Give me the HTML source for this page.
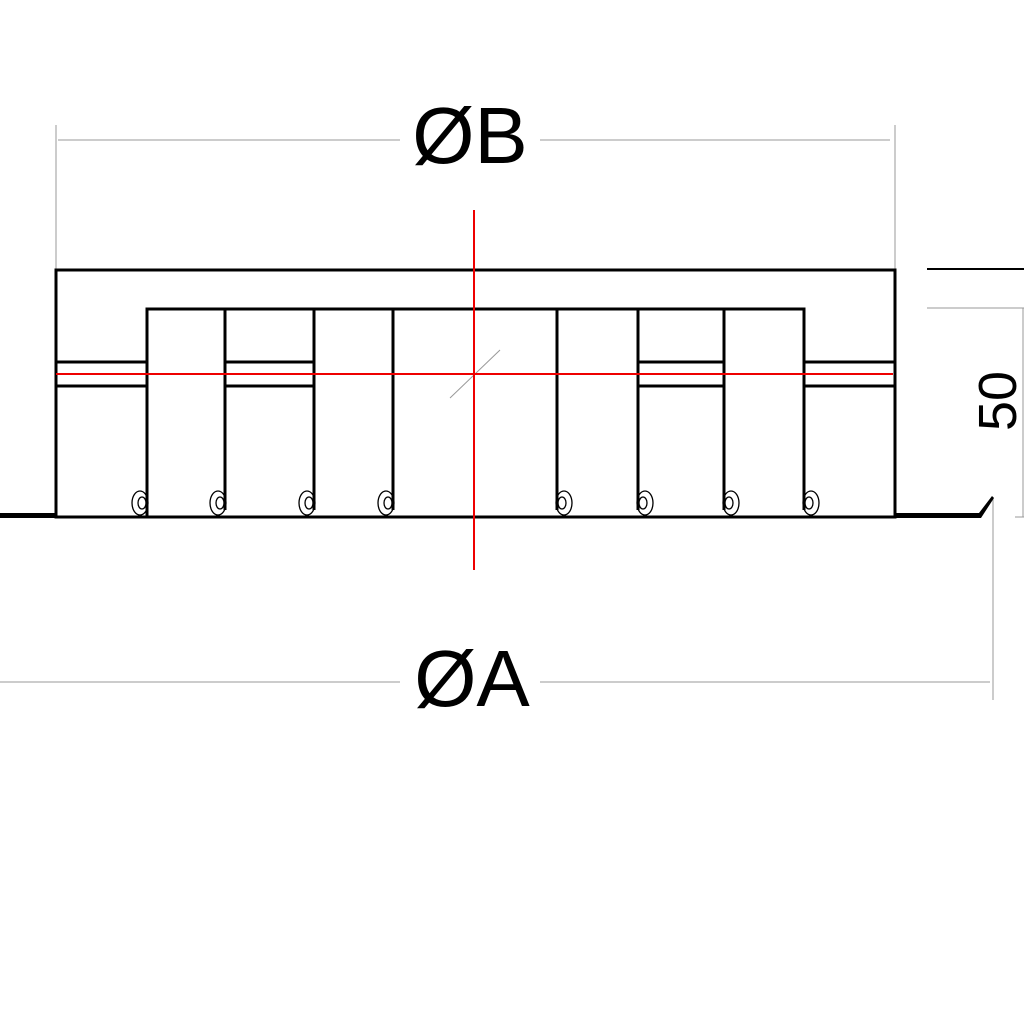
<!DOCTYPE html>
<html><head><style>html,body{margin:0;padding:0;background:#fff;width:1024px;height:1024px;overflow:hidden}text{font-family:"Liberation Sans",sans-serif}</style></head>
<body>
<svg width="1024" height="1024" viewBox="0 0 1024 1024" xmlns="http://www.w3.org/2000/svg">
<rect width="1024" height="1024" fill="#fff"/>
<g stroke="#999" stroke-width="1" fill="none">
<line x1="56" y1="125" x2="56" y2="270"/>
<line x1="895" y1="125" x2="895" y2="270"/>
<line x1="58" y1="140" x2="400" y2="140"/>
<line x1="540" y1="140" x2="890" y2="140"/>
<line x1="0" y1="682" x2="400" y2="682"/>
<line x1="540" y1="682" x2="990" y2="682"/>
<line x1="993" y1="497" x2="993" y2="700"/>
<line x1="927" y1="308" x2="1024" y2="308"/>
<line x1="1023" y1="308" x2="1023" y2="517"/>
<line x1="1015" y1="517" x2="1024" y2="517"/>
<line x1="450" y1="398" x2="500" y2="350"/>
</g>
<line x1="927" y1="269" x2="1024" y2="269" stroke="#000" stroke-width="2"/>
<g stroke="#000" stroke-width="3" fill="none">
<rect x="56" y="270" width="839" height="247"/>
<polyline points="147,517 147,309 804,309 804,510"/>
<line x1="225" y1="309" x2="225" y2="510"/>
<line x1="314" y1="309" x2="314" y2="510"/>
<line x1="393" y1="309" x2="393" y2="510"/>
<line x1="557" y1="309" x2="557" y2="510"/>
<line x1="638" y1="309" x2="638" y2="510"/>
<line x1="724" y1="309" x2="724" y2="510"/>
<line x1="56" y1="362" x2="147" y2="362"/><line x1="56" y1="386" x2="147" y2="386"/>
<line x1="225" y1="362" x2="314" y2="362"/><line x1="225" y1="386" x2="314" y2="386"/>
<line x1="638" y1="362" x2="724" y2="362"/><line x1="638" y1="386" x2="724" y2="386"/>
<line x1="804" y1="362" x2="895" y2="362"/><line x1="804" y1="386" x2="895" y2="386"/>
</g>
<g stroke="#000" stroke-width="1.3" fill="none">
<g><ellipse cx="140" cy="503" rx="8" ry="12"/><ellipse cx="142" cy="503" rx="4" ry="6"/></g>
<g><ellipse cx="218" cy="503" rx="8" ry="12"/><ellipse cx="220" cy="503" rx="4" ry="6"/></g>
<g><ellipse cx="307" cy="503" rx="8" ry="12"/><ellipse cx="309" cy="503" rx="4" ry="6"/></g>
<g><ellipse cx="386" cy="503" rx="8" ry="12"/><ellipse cx="388" cy="503" rx="4" ry="6"/></g>
<g><ellipse cx="564" cy="503" rx="8" ry="12"/><ellipse cx="562" cy="503" rx="4" ry="6"/></g>
<g><ellipse cx="645" cy="503" rx="8" ry="12"/><ellipse cx="643" cy="503" rx="4" ry="6"/></g>
<g><ellipse cx="731" cy="503" rx="8" ry="12"/><ellipse cx="729" cy="503" rx="4" ry="6"/></g>
<g><ellipse cx="811" cy="503" rx="8" ry="12"/><ellipse cx="809" cy="503" rx="4" ry="6"/></g>
</g>
<rect x="0" y="513" width="56" height="5" fill="#000"/>
<polygon points="895,513 979,513 992,496 994,498 981,518 895,518" fill="#000"/>
<g stroke="#e00" stroke-width="2">
<line x1="56" y1="374" x2="893" y2="374"/>
<line x1="474" y1="210" x2="474" y2="570"/>
</g>
<g fill="#000">
<text x="470" y="163" font-size="80" text-anchor="middle">ØB</text>
<text x="472" y="706" font-size="80" text-anchor="middle">ØA</text>
<text transform="translate(1016,401) rotate(-90)" font-size="54" text-anchor="middle">50</text>
</g>
</svg>
</body></html>
